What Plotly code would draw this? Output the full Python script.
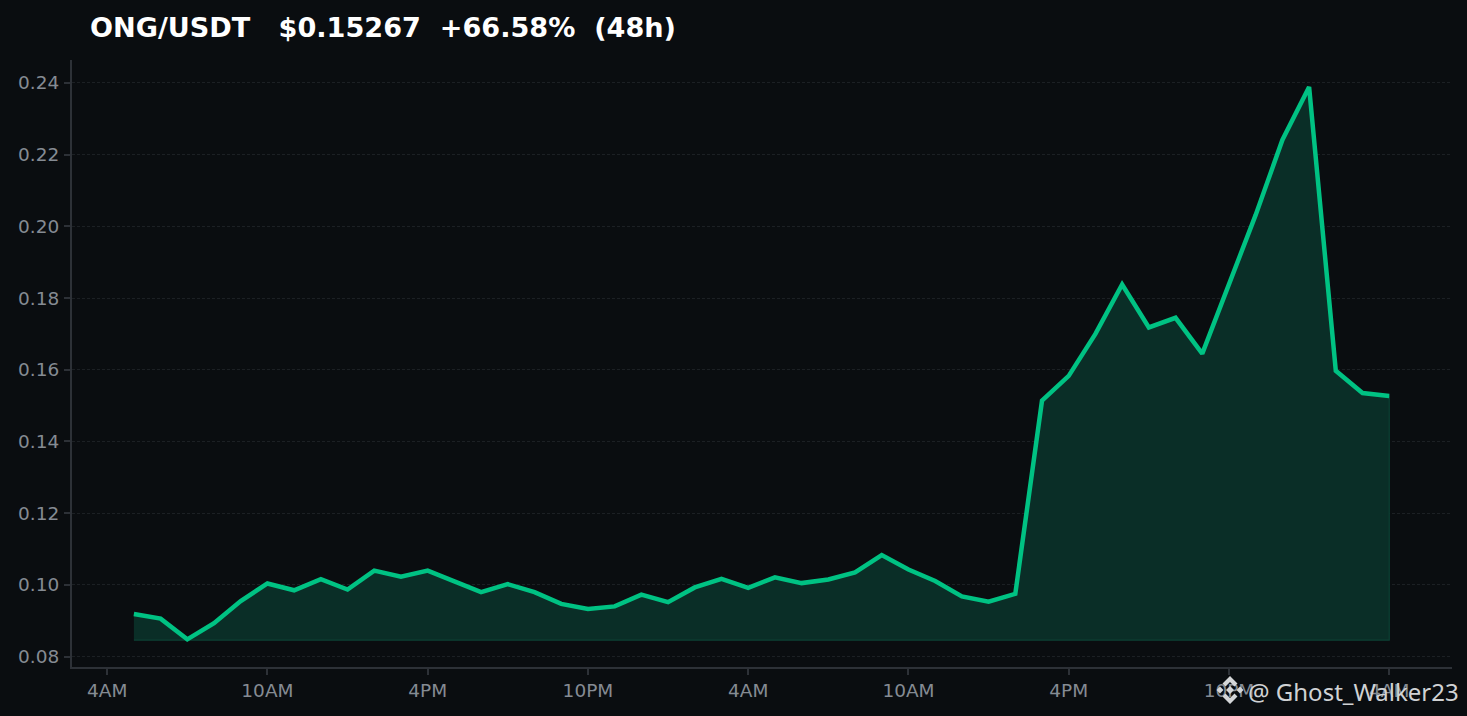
import base64
import pandas as pd
import plotly.graph_objects as go

prices = [0.0919, 0.0906, 0.0848, 0.0893, 0.0955, 0.1004, 0.0985, 0.1016, 0.0987, 0.1040,
          0.1023, 0.1040, 0.1010, 0.0980, 0.1002, 0.0980, 0.0947, 0.0933, 0.0940, 0.0973,
          0.0952, 0.0993, 0.1017, 0.0992, 0.1021, 0.1005, 0.1015, 0.1035, 0.1083, 0.1043,
          0.1011, 0.0968, 0.0953, 0.0975, 0.1514, 0.1583, 0.1700, 0.1838, 0.1718, 0.1745,
          0.1645, 0.1840, 0.2032, 0.2241, 0.2389, 0.1597, 0.1535, 0.15267]
times = list(pd.date_range("2024-01-01 05:00", periods=len(prices), freq="h"))
base_value = min(prices) - 0.0002

y_ticks = [0.08, 0.10, 0.12, 0.14, 0.16, 0.18, 0.20, 0.22, 0.24]
y_labels = ["0.08", "0.10", "0.12", "0.14", "0.16", "0.18", "0.20", "0.22", "0.24"]
x_ticks = list(pd.date_range("2024-01-01 04:00", periods=9, freq="6h"))
x_labels = ["4AM", "10AM", "4PM", "10PM", "4AM", "10AM", "4PM", "10PM", "4AM"]

title_text = "ONG/USDT   $0.15267  +66.58%  (48h)"
watermark = "@ Ghost_Walker23"

BG = "#0a0d10"
GREEN = "#00c283"
AXIS = "#2d3137"
TICK = "#858b93"
FONT = "DejaVu Sans"

icon_svg = """<svg xmlns='http://www.w3.org/2000/svg' viewBox='0 0 30 30'>
<g fill='#d4d6d8'>
<path d='M15 1 L22.5 8.5 L19.5 11.5 L15 7 L10.5 11.5 L7.5 8.5 Z'/>
<path d='M15 29 L22.5 21.5 L19.5 18.5 L15 23 L10.5 18.5 L7.5 21.5 Z'/>
<path d='M5 11.5 L8.5 15 L5 18.5 L1.5 15 Z'/>
<path d='M25 11.5 L28.5 15 L25 18.5 L21.5 15 Z'/>
<path d='M15 11 L19 15 L15 19 L11 15 Z'/>
</g></svg>"""
icon_uri = "data:image/svg+xml;base64," + base64.b64encode(icon_svg.encode()).decode()

fig = go.Figure()
fig.add_trace(go.Scatter(
    x=times + times[::-1],
    y=prices + [base_value] * len(prices),
    mode="lines", fill="toself", fillcolor="#0a2e27",
    line=dict(color="#0c4134", width=1.2), hoverinfo="skip", showlegend=False,
))
fig.add_trace(go.Scatter(
    x=times, y=prices, mode="lines",
    line=dict(color=GREEN, width=4.5, shape="linear"), showlegend=False,
))

fig.update_layout(
    width=1467, height=716,
    margin=dict(l=72, r=15, t=60, b=49),
    paper_bgcolor=BG, plot_bgcolor=BG,
    font=dict(family=FONT, color=TICK, size=18.5),
    xaxis=dict(
        range=[pd.Timestamp("2024-01-01 02:41"), pd.Timestamp("2024-01-03 06:21")],
        tickmode="array", tickvals=x_ticks, ticktext=x_labels,
        showgrid=False, zeroline=False, showline=True, linecolor=AXIS, linewidth=2,
        ticks="outside", ticklen=6, tickwidth=2, tickcolor=AXIS,
        tickfont=dict(family=FONT, size=18.5, color=TICK),
    ),
    yaxis=dict(
        range=[0.0771, 0.2464],
        tickmode="array", tickvals=y_ticks, ticktext=y_labels,
        showgrid=True, gridcolor="#1c2024", griddash="3px,2px", gridwidth=1,
        zeroline=False, showline=True, linecolor=AXIS, linewidth=2,
        ticks="outside", ticklen=6, tickwidth=2, tickcolor=AXIS, ticklabelstandoff=1,
        tickfont=dict(family=FONT, size=18.5, color=TICK),
    ),
    annotations=[
        dict(text="<b>" + title_text + "</b>", xref="paper", yref="paper",
             x=0, y=1, xanchor="left", yanchor="middle", showarrow=False,
             font=dict(family=FONT, size=27.1, color="#ffffff")),
        dict(text=watermark, xref="paper", yref="paper", x=1.0, y=0, showarrow=False,
             font=dict(family="Noto Sans", size=24, color="#d0d2d4")),
    ],
    images=[dict(source=icon_uri, xref="paper", yref="paper", x=0.5, y=0.5, sizex=0.02, sizey=0.04,
                 xanchor="center", yanchor="middle", layer="above")],
)

# Overlay positions given in page pixels, converted to the plot-area fractions Plotly needs.
PW, PH = 1467 - 72 - 15, 716 - 60 - 49
def fx(px): return (px - 72) / PW
def fy(py): return (667 - py) / PH
fig.layout.annotations[0].update(x=fx(88), y=fy(27))
fig.layout.annotations[1].update(x=fx(1461), y=fy(691), xanchor="right", yanchor="middle")
fig.layout.images[0].update(x=fx(1230), y=fy(690), sizex=30 / PW, sizey=30 / PH)

fig.write_html("out.html", config={"displayModeBar": False},
               post_script="document.body.style.margin='0';document.body.style.overflow='hidden';document.documentElement.style.background='%s';" % BG)
